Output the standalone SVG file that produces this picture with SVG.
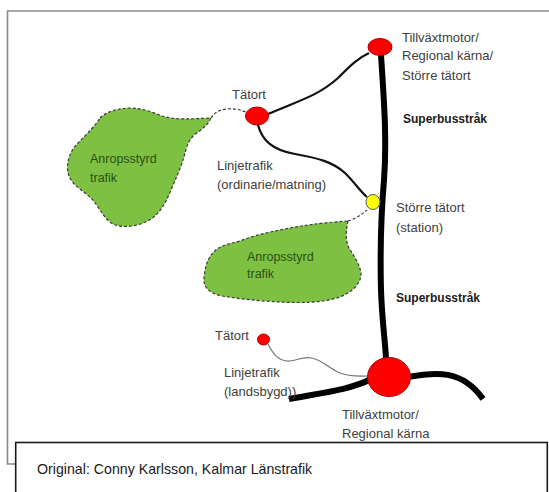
<svg xmlns="http://www.w3.org/2000/svg" width="549" height="492" viewBox="0 0 549 492">
<style>
text{font-family:"Liberation Sans",Arial,sans-serif;font-size:13px;fill:#404040}
.b{font-weight:bold;font-size:12px;fill:#1a1a1a}
.g{fill:#2b4f16;font-size:12.5px}
.cap{font-size:14.2px;fill:#1a1a1a}
.blob{fill:#7ec142;stroke:#3a3a3a;stroke-width:1.2;stroke-dasharray:3 2}
.dash{fill:none;stroke:#3a3a3a;stroke-width:1.2;stroke-dasharray:3 2}
.thin{fill:none;stroke:#111;stroke-width:2.2}
.thick{fill:none;stroke:#000;stroke-width:6;stroke-linecap:butt}
.red{fill:#f00;stroke:#b00000;stroke-width:1}
.yel{fill:#ff0;stroke:#555;stroke-width:1}
</style>
<rect width="549" height="492" fill="#fff"/>
<path d="M549,11 H7.5 V464 H16" fill="none" stroke="#8a8a8a" stroke-width="1.6"/>
<rect x="15.7" y="442.5" width="531.6" height="60" fill="#fff" stroke="#1a1a1a" stroke-width="1.6"/>
<text class="cap" x="37" y="474">Original: Conny Karlsson, Kalmar Länstrafik</text>

<g id="blob1">
<path class="blob" d="M100,118 C106,112 116,109 128,108 C142,108 152,112 162,116 C175,120 190,119 211,118 C208,125 201,130 194,135 C187,142 186,150 184,157 C181,167 176,178 171,190 C166,202 161,212 151,219 C140,226 124,229 113,224 C104,219 99,207 92,199 C84,191 73,186 69,176 C65,166 69,151 79,142 C87,134 95,126 100,118 Z"/>
<text class="g" x="90" y="162.5">Anropsstyrd</text>
<text class="g" x="90" y="182">trafik</text>
</g>
<g id="blob2">
<path class="blob" d="M348,221 C346,230 345,240 349,248 C354,256 361,266 361,275 C360,285 351,293 337,298 C320,303 300,303 280,302 C260,301 240,299 222,296 C209,293 203,287 204,278 C205,265 209,255 217,249 C225,244 232,243 240,241 C255,235 270,232 285,229 C305,225 320,223 348,221 Z"/>
<text class="g" x="247" y="260.5">Anropsstyrd</text>
<text class="g" x="247" y="278">trafik</text>
</g>

<g id="connectors">
<path class="dash" d="M211,118 C215,112 219,110 227,109 C235,108 240,110 246,112"/>
<path class="dash" d="M348,221 C355,219 361,215 367,210"/>
<path class="thin" d="M268,114 C298,101 318,96 338,78 C350,66 358,58 369,53"/>
<path class="thin" d="M258,125 C262,140 272,150 295,154 C318,158 333,162 345,173 C355,183 361,192 367,197"/>
<path fill="none" stroke="#777" stroke-width="1.2" d="M268,344 C272,352 278,362 290,361 C298,360 304,356 312,358 C322,360 330,369 340,373 C350,377 358,376 368,376"/>
<path class="thick" d="M381,55 C384,100 387,140 384,180 C381,215 380,250 381,290 C382,320 385,340 386,358"/>
<path class="thick" d="M289,399 C320,393 350,390 371,379"/>
<path class="thick" d="M408,377 C435,372 462,369 483,399"/>
</g>

<g id="n-top"><ellipse class="red" cx="380" cy="47" rx="12" ry="8.5"/>
<text x="402" y="41.5">Tillväxtmotor/</text><text x="402" y="60">Regional kärna/</text><text x="402" y="79.5">Större tätort</text></g>
<g id="n-tatort"><ellipse class="red" cx="257" cy="116" rx="11.5" ry="9"/><text x="232" y="98.5">Tätort</text></g>
<g id="n-station"><ellipse class="yel" cx="373" cy="202" rx="7" ry="7.5"/><text x="396" y="211.5">Större tätort</text><text x="396" y="232">(station)</text></g>
<g id="n-small"><ellipse class="red" cx="263.5" cy="339.5" rx="6" ry="5.5"/><text x="215" y="339.5">Tätort</text></g>
<g id="n-big"><ellipse class="red" cx="389" cy="377" rx="21.5" ry="19.5"/><text x="342" y="419">Tillväxtmotor/</text><text x="342" y="437.5">Regional kärna</text></g>

<g id="labels">
<text class="b" x="403" y="122.5">Superbusstråk</text>
<text class="b" x="396" y="301.5">Superbusstråk</text>
<text x="217" y="169.5">Linjetrafik</text><text x="217" y="188.5">(ordinarie/matning)</text>
<text x="224" y="377">Linjetrafik</text><text x="224" y="396">(landsbygd))</text>
</g>
</svg>
